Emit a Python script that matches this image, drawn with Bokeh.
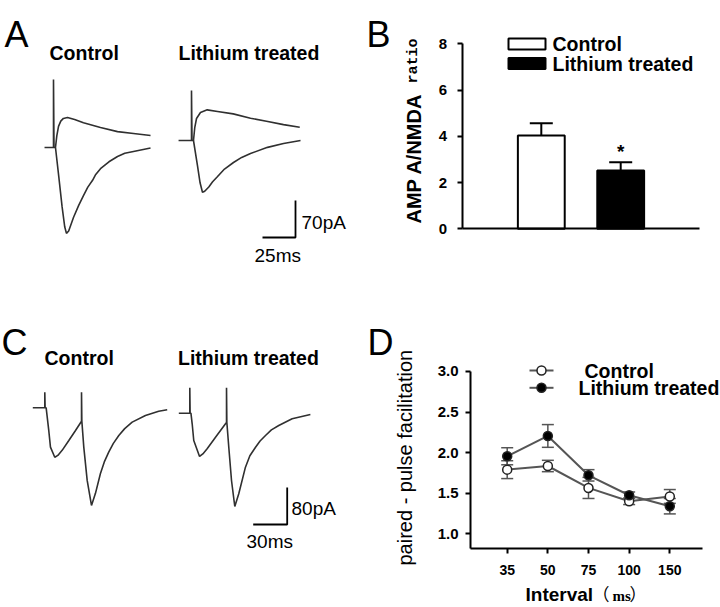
import math
import numpy as np
from bokeh.plotting import figure
from bokeh.models import (Range1d, Label, ColumnDataSource, LinearAxis,
                          FixedTicker, PrintfTickFormatter)
from bokeh.embed import file_html
from bokeh.resources import INLINE
from bokeh.core.properties import value

FONT = "Liberation Sans"

# ---------------- data ----------------
# Panel A: evoked EPSCs (ms from stimulus, pA); AMPA at -70 mV, NMDA at +40 mV
a_ctrl_ampa_t = [-6.8, 0.0, 0.0, 0.4, 1.5, 4.0, 6.5, 8.5, 9.8, 11.5, 15.2, 19.0, 22.7, 26.0, 29.6, 32.0, 35.6, 42.0, 48.5, 54.0, 60.6, 73.5]
a_ctrl_ampa_i = [0, 0, 128.5, 0, 0, -55, -112, -150, -162.5, -158, -132, -110, -91, -75, -62, -51, -40, -27, -17, -11, -7.6, -1]
a_ctrl_nmda_t = [1.5, 2.5, 3.8, 5.5, 7.5, 10.6, 16.0, 22.7, 35.6, 48.5, 60.6, 73.5]
a_ctrl_nmda_i = [0, 22, 40, 50, 55, 56.7, 53, 47, 37.8, 30, 26.5, 22.7]
a_li_ampa_t = [-9.8, 0.0, 0.0, 0.4, 1.5, 4.5, 6.5, 8.3, 10.0, 13.1, 16.0, 19.4, 25.0, 31.8, 38.0, 44.7, 57.6, 69.7, 82.6]
a_li_ampa_i = [0, 0, 94.5, 0, 0, -47, -80, -98, -96, -88, -78, -69, -54, -41.6, -32, -24.6, -13, -5.7, 0]
a_li_nmda_t = [1.5, 2.5, 3.8, 6.8, 11.9, 19.7, 31.6, 44.7, 56.8, 69.7, 82.0]
a_li_nmda_i = [0, 25, 41.6, 53, 58, 55, 50.4, 42, 36.5, 30, 25.2]
a_bar_ms, a_bar_pa = 25, 70

# Panel B: AMPA/NMDA ratio
b_groups = ["Control", "Lithium treated"]
b_ratio = [4.03, 2.52]
b_sem = [0.53, 0.36]
b_yticks = [0, 2, 4, 6, 8]

# Panel C: paired-pulse EPSCs (ms from first stimulus, pA)
c_ctrl_t = [-10.6, 0.0, 0.0, 0.3, 1.2, 3.5, 5.0, 8.8, 11.5, 15.3, 21.2, 27.1, 32.4, 32.4, 32.7, 34.4, 37.4, 41.2, 44.7, 49.1, 52.5, 56.4, 60.5, 65.3, 70.5, 77.1, 88.8, 100.5, 108.0]
c_ctrl_i = [0, 0, 33.7, 0, 0, -49, -85, -107, -103, -92, -70.7, -49, -29, 33.7, -29, -85, -157, -211, -185, -142, -117, -96, -77, -60, -45, -31, -16.6, -7.4, -4.3]
c_li_t = [-9.7, 0.0, 0.0, 0.3, 1.0, 2.1, 3.5, 8.6, 11.5, 15.3, 22.7, 31.5, 32.4, 32.4, 32.7, 34.4, 36.8, 39.7, 43.2, 49.1, 53.0, 58.0, 62.0, 66.8, 72.0, 78.5, 90.3, 106.4]
c_li_i = [0, 0, 54.9, 0, 0, -22.9, -59, -93.6, -88, -77, -51.9, -22.9, -20, 54.9, -20, -73.5, -145.5, -201.7, -174.3, -116.7, -92, -73.5, -60, -48.2, -36, -26.6, -12.1, -2.8]
c_bar_ms, c_bar_pa = 30, 80

# Panel D: paired-pulse facilitation
d_intervals = ["35", "50", "75", "100", "150"]
d_series = ["Control", "Lithium treated"]
d_ctrl = [1.79, 1.835, 1.565, 1.40, 1.46]
d_ctrl_err = [0.11, 0.07, 0.13, 0.04, 0.085]
d_li = [1.955, 2.205, 1.72, 1.475, 1.34]
d_li_err = [0.105, 0.14, 0.07, 0.04, 0.095]
d_yticks = [1.0, 1.5, 2.0, 2.5, 3.0]

# ---------------- layout (page pixels) ----------------
W, H = 720, 607
TRACE = "#303030"
GREY = "#555555"
Y = lambda y: H - y

# per-panel pixel -> data mappings
kxA, kyA = a_bar_ms / 33.0, a_bar_pa / 37.0
ax = lambda x: (x - 53) * kxA
ay = lambda y: (147 - y) * kyA
kxC, kyC = c_bar_ms / 34.0, c_bar_pa / 37.0
cx = lambda x: (x - 44.3) * kxC
cy = lambda y: (407.3 - y) * kyC
bx = lambda x: 1 + (x - 540.8) / 79.4
by = lambda y: (228.3 - y) / 23.125
dx = lambda x: (x - 506.7) / 40.65
dy = lambda y: 1.0 + (533.3 - y) / 81.2

p = figure(width=W, height=H, x_range=Range1d(0, W), y_range=Range1d(0, H),
           x_axis_type=None, y_axis_type=None, output_backend="svg",
           toolbar_location=None, min_border=0)
p.grid.visible = False
p.outline_line_color = None
p.extra_x_ranges = {"ax": Range1d(ax(0), ax(W)), "cx": Range1d(cx(0), cx(W)),
                    "bx": Range1d(bx(0), bx(W)), "dx": Range1d(dx(0), dx(W))}
p.extra_y_ranges = {"ay": Range1d(ay(H), ay(0)), "cy": Range1d(cy(H), cy(0)),
                    "by": Range1d(by(H), by(0)), "dy": Range1d(dy(H), dy(0))}


def lab(x, y, text, size, bold=False, font=FONT, align="left",
        baseline="middle", angle=0.0):
    p.add_layout(Label(x=x, y=Y(y), text=text, text_font=font,
                       text_font_size=f"{size}px",
                       text_font_style="bold" if bold else "normal",
                       text_align=align, text_baseline=baseline,
                       angle=angle, text_color="black"))


def style_axis(a, size):
    a.axis_line_width = 2
    a.axis_line_color = "black"
    a.major_tick_line_width = 2
    a.major_tick_line_color = "black"
    a.major_tick_in = 0
    a.major_tick_out = 5
    a.minor_tick_line_color = None
    a.major_label_text_font = FONT
    a.major_label_text_font_style = "bold"
    a.major_label_text_font_size = f"{size}px"
    a.major_label_text_color = "black"


# ----- Panel A -----
A = dict(x_range_name="ax", y_range_name="ay")
p.line(a_ctrl_ampa_t, a_ctrl_ampa_i, line_color=TRACE, line_width=1.6, **A)
p.line(a_ctrl_nmda_t, a_ctrl_nmda_i, line_color=TRACE, line_width=1.6, **A)
dtA, diA = ax(191), ay(140)
p.line(np.array(a_li_ampa_t) + dtA, np.array(a_li_ampa_i) + diA, line_color=TRACE, line_width=1.6, **A)
p.line(np.array(a_li_nmda_t) + dtA, np.array(a_li_nmda_i) + diA, line_color=TRACE, line_width=1.6, **A)
cxA, cyA = ax(295), ay(237)
p.line([cxA - a_bar_ms, cxA, cxA], [cyA, cyA, cyA + a_bar_pa], line_color="black", line_width=1.8, **A)
lab(4, 34, "A", 36, baseline="alphabetic")
lab(49, 52, "Control", 19.5, bold=True)
lab(178, 52, "Lithium treated", 19.5, bold=True)
lab(301, 222, f"{a_bar_pa}pA", 19)
lab(254, 255, f"{a_bar_ms}ms", 19)

# ----- Panel C -----
C = dict(x_range_name="cx", y_range_name="cy")
p.line(c_ctrl_t, c_ctrl_i, line_color=TRACE, line_width=1.6, **C)
dtC, diC = cx(189.3), cy(412.7)
p.line(np.array(c_li_t) + dtC, np.array(c_li_i) + diC, line_color=TRACE, line_width=1.6, **C)
cxC, cyC = cx(286.7), cy(524)
p.line([cxC - c_bar_ms, cxC, cxC], [cyC, cyC, cyC + c_bar_pa], line_color="black", line_width=1.8, **C)
lab(1, 342, "C", 36, baseline="alphabetic")
lab(44, 357, "Control", 19.5, bold=True)
lab(177.5, 357, "Lithium treated", 19.5, bold=True)
lab(291, 508, f"{c_bar_pa}pA", 19)
lab(246, 541, f"{c_bar_ms}ms", 19)

# ----- Panel B -----
B = dict(x_range_name="bx", y_range_name="by")
bpos = [i + 1 for i in range(len(b_groups))]
bfill = ["white", "black"]
bsrc = ColumnDataSource(dict(x=bpos, top=b_ratio, hi=[r + s for r, s in zip(b_ratio, b_sem)],
                             fill=bfill))
p.segment(x0="x", y0="top", x1="x", y1="hi", source=bsrc, line_color="black", line_width=2, **B)
p.scatter(x="x", y="hi", source=bsrc, marker="dash", size=23, line_color="black", line_width=2, **B)
bars = p.vbar(x="x", top="top", width=0.59, source=bsrc, fill_color="fill",
              line_color="black", line_width=2, **B)
p.text(x=[bpos[1]], y=[b_ratio[1] + b_sem[1] + 0.45], text=["*"], text_font=value(FONT),
       text_font_size="19px", text_font_style="bold", text_align="center",
       text_baseline="middle", **B)
yB = LinearAxis(fixed_location=bx(461.7), bounds=(b_yticks[0], b_yticks[-1]),
                ticker=FixedTicker(ticks=b_yticks), **B)
style_axis(yB, 15)
yB.major_label_standoff = 10
p.add_layout(yB, "left")
xB = LinearAxis(fixed_location=0, bounds=(bx(461.7), bx(699)), ticker=FixedTicker(ticks=[]), **B)
style_axis(xB, 15)
p.add_layout(xB, "below")
# legend keys (page pixels)
for i, (g, f) in enumerate(zip(b_groups, bfill)):
    ym = 43.5 + 19.5 * i
    p.quad(left=[508], right=[545], top=[Y(ym - 5.5)], bottom=[Y(ym + 5.5)],
           fill_color=f, line_color="black", line_width=2)
    lab(552, ym, g, 19.5, bold=True)
lab(366, 34, "B", 36, baseline="alphabetic")
lab(413, 223, "AMP A/NMDA", 20, bold=True, baseline="alphabetic", angle=math.pi / 2)
lab(413, 83, "ratio", 15, bold=True, font="Liberation Mono", baseline="alphabetic", angle=math.pi / 2)

# ----- Panel D -----
D = dict(x_range_name="dx", y_range_name="dy")
dpos = list(range(len(d_intervals)))
srcC = ColumnDataSource(dict(x=dpos, y=d_ctrl, lo=[v - e for v, e in zip(d_ctrl, d_ctrl_err)],
                             hi=[v + e for v, e in zip(d_ctrl, d_ctrl_err)]))
srcL = ColumnDataSource(dict(x=dpos, y=d_li, lo=[v - e for v, e in zip(d_li, d_li_err)],
                             hi=[v + e for v, e in zip(d_li, d_li_err)]))
for s in (srcC, srcL):
    p.segment(x0="x", y0="lo", x1="x", y1="hi", source=s, line_color=GREY, line_width=1.5, **D)
    p.scatter(x="x", y="lo", source=s, marker="dash", size=12, line_color=GREY, line_width=1.5, **D)
    p.scatter(x="x", y="hi", source=s, marker="dash", size=12, line_color=GREY, line_width=1.5, **D)
dfill = ["white", "black"]
for s, f in zip((srcC, srcL), dfill):
    p.line("x", "y", source=s, line_color=GREY, line_width=2, **D)
for s, f in zip((srcC, srcL), dfill):
    p.scatter("x", "y", source=s, size=9, fill_color=f, line_color="#222222", line_width=1.5, **D)
yD = LinearAxis(fixed_location=dx(470), bounds=(dy(548.3), d_yticks[-1]),
                ticker=FixedTicker(ticks=d_yticks), formatter=PrintfTickFormatter(format="%.1f"), **D)
style_axis(yD, 15)
yD.major_label_standoff = 7
p.add_layout(yD, "left")
xD = LinearAxis(fixed_location=dy(548.3), bounds=(dx(470), dx(701.7)), ticker=FixedTicker(ticks=dpos),
                major_label_overrides={i: t for i, t in zip(dpos, d_intervals)}, **D)
style_axis(xD, 14)
xD.major_label_standoff = 11
p.add_layout(xD, "below")
# legend keys (page pixels)
for i, (g, f) in enumerate(zip(d_series, dfill)):
    ym = 370 + 17.3 * i
    p.line([529, 553], [Y(ym), Y(ym)], line_color=GREY, line_width=2)
    p.scatter([541], [Y(ym)], size=9, fill_color=f, line_color="#222222", line_width=1.5)
    lab(584 - 6 * i, ym, g, 19.5, bold=True)
lab(367, 342, "D", 36, baseline="alphabetic")
lab(404, 565, "paired - pulse facilitation", 20, baseline="alphabetic", angle=math.pi / 2)
lab(525, 594, "Interval", 19, bold=True)
lab(592, 593, "（", 17, font="Noto Sans CJK SC")
lab(612, 595, "ms", 15, bold=True, font="Liberation Serif")
lab(629, 593, "）", 17, font="Noto Sans CJK SC")

open("out.html", "w").write(file_html(p, INLINE))
